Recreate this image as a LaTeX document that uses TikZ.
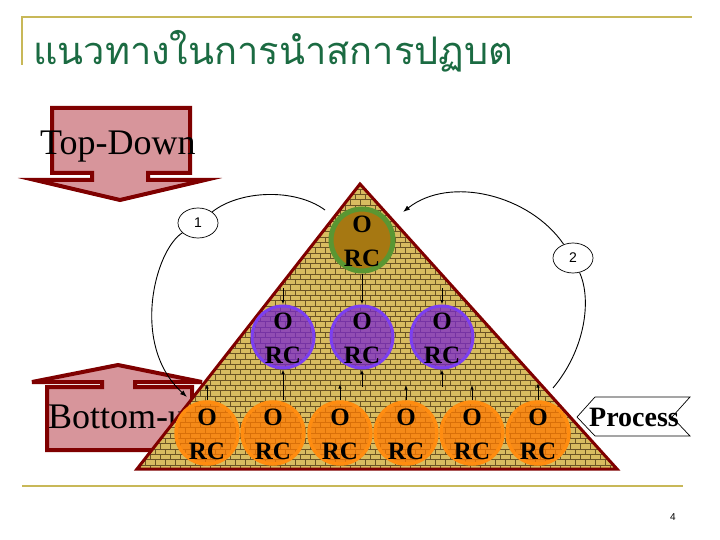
\documentclass[tikz,border=0pt]{standalone}
\usepackage{fontspec}
\setmainfont{Liberation Serif}
\newfontfamily\thaifont[Script=Thai]{Loma}
\newfontfamily\sansf{Liberation Sans}
\usetikzlibrary{arrows.meta,shapes.geometric}
\definecolor{goldline}{HTML}{C8B858}
\definecolor{titlegreen}{HTML}{1B6B42}
\definecolor{pinkfill}{HTML}{D7959B}
\definecolor{darkred}{HTML}{7F0000}
\definecolor{brickcol}{HTML}{D8BC60}
\definecolor{mortarcol}{HTML}{6B5424}
\definecolor{topfill}{HTML}{A67812}
\definecolor{topline}{HTML}{5A9632}
\definecolor{purplefill}{HTML}{7A28D0}
\definecolor{purpleline}{HTML}{7B3FF0}
\definecolor{orangefill}{HTML}{FF7A00}
\definecolor{orangeline}{HTML}{FF8C10}
\tikzset{
  rule/.style={draw=goldline, line width=2pt},
  blockarrow/.style={draw=darkred, fill=pinkfill, line width=4pt, line join=miter},
  bigtext/.style={font=\fontsize{36}{40}\selectfont, inner sep=0pt},
  mortar/.style={draw=mortarcol, line width=0.8pt},
  pyrborder/.style={draw=darkred, line width=3pt, line join=miter},
  circtext/.style={font=\bfseries\fontsize{25}{30}\selectfont, inner sep=0pt},
  basecirc/.style={circle, minimum size=62pt, inner sep=0pt},
  topcirc/.style={basecirc, fill=topfill, draw=topline, line width=5pt},
  purplecirc/.style={basecirc, fill=purplefill, fill opacity=0.75, draw=purpleline, draw opacity=1, line width=3pt},
  orangecirc/.style={basecirc, fill=orangefill, fill opacity=0.75, draw=orangeline, draw opacity=1, line width=3.5pt},
  tinyarrow/.style={draw=black, line width=0.8pt, -{Latex[length=4.5pt,width=3.5pt]}},
  curveline/.style={draw=black, line width=0.9pt},
  curvearrow/.style={curveline, -{Latex[length=7pt,width=5pt]}},
  numlbl/.style={ellipse, draw=black, line width=0.7pt, fill=white, minimum width=40pt, minimum height=30pt, inner sep=0pt, font=\sansf\fontsize{14}{16}\selectfont},
}
\begin{document}
\begin{tikzpicture}[x=1pt,y=-1pt]
\useasboundingbox (0,0) rectangle (720,540);
\fill[white] (0,0) rectangle (720,540);

% rules
\draw[rule] (22,65) -- (22,17) -- (692,17);
\draw[rule] (22,486) -- (683,486);

% title
\node[anchor=base west, inner sep=0pt, text=titlegreen, font=\thaifont\fontsize{38}{42}\selectfont] (title) at (33,65) {แนวทางในการนำสการปฏบต};

% Top-Down arrow
\draw[blockarrow] (52,108) -- (190,108) -- (190,173) -- (148,173) -- (148,180) -- (205,180) -- (120,200) -- (35,180) -- (92,180) -- (92,173) -- (52,173) -- cycle;
\node[bigtext, anchor=base west] (td) at (40,155) {Top-Down};

% Bottom-up arrow
\draw[blockarrow] (118,365) -- (202,382) -- (135,382) -- (135,387) -- (192,387) -- (192,450) -- (47,450) -- (47,387) -- (102,387) -- (102,382) -- (32,382) -- cycle;
\node[bigtext, anchor=base west] (bu) at (48,428) {Bottom-up};

% pyramid
\coordinate (apex) at (360,184);
\coordinate (bl) at (137,469);
\coordinate (br) at (617,469);
\begin{scope}
  \clip (apex) -- (bl) -- (br) -- cycle;
  \fill[brickcol] (130,180) rectangle (620,472);
  \foreach \r in {0,...,54} \draw[mortar] (130,{184+5.3*\r}) -- (620,{184+5.3*\r});
  \foreach \k in {0,...,97} {
    \pgfmathsetmacro\ph{mod(\k,2)*5.3}
    \draw[mortar, dash pattern=on 5.3pt off 5.3pt, dash phase=\ph] ({135+5*\k},184) -- ({135+5*\k},472);
  }
\end{scope}
\draw[pyrborder] (apex) -- (bl) -- (br) -- cycle;

% circles
\node[topcirc] (t) at (362,240) {};
\node[purplecirc] (p1) at (283,337) {};
\node[purplecirc] (p2) at (362,337) {};
\node[purplecirc] (p3) at (442,337) {};
\node[orangecirc] (o1) at (207,433) {};
\node[orangecirc] (o2) at (273,433) {};
\node[orangecirc] (o3) at (340,433) {};
\node[orangecirc] (o4) at (406,433) {};
\node[orangecirc] (o5) at (472,433) {};
\node[orangecirc] (o6) at (538,433) {};
\foreach \n in {t,p1,p2,p3,o1,o2,o3,o4,o5,o6} {
  \node[circtext] (\n-o) at ([yshift=16pt]\n.center) {O};
  \node[circtext] (\n-rc) at ([yshift=-18pt]\n.center) {RC};
}

% small arrows down
\coordinate (d1) at (283,288);
\coordinate (d3) at (442,288);
\draw[tinyarrow] (d1) -- (p1.north);
\draw[tinyarrow] (t.south) -- (p2.north);
\draw[tinyarrow] (d3) -- (p3.north);
% small arrows up
\coordinate (u1) at (207,384);
\coordinate (u3) at (340,384);
\coordinate (u4) at (406,385);
\coordinate (u5) at (472,385);
\coordinate (u6) at (538,383);
\coordinate (v2) at (362,387);
\coordinate (v3) at (442,387);
\draw[tinyarrow] (o1.north) -- (u1);
\draw[tinyarrow] (p1.south |- o2.north) -- (p1.south);
\draw[tinyarrow] (o3.north) -- (u3);
\draw[tinyarrow] (o4.north) -- (u4);
\draw[tinyarrow] (o5.north) -- (u5);
\draw[tinyarrow] (o6.north) -- (u6);
\draw[tinyarrow] (v2) -- (p2.south);
\draw[tinyarrow] (v3) -- (p3.south);

% curved arrows
\node[numlbl] (n1) at (198,223) {1};
\node[numlbl] (n2) at (573,258) {2};
\coordinate (c1s) at (325,210);
\coordinate (e1) at (187,397);
\coordinate (c2s) at (553,388);
\coordinate (e2) at (403,212);
\draw[curveline] (c1s) .. controls (295,188) and (240,190) .. (n1);
\draw[curvearrow] (n1) .. controls (155,250) and (130,345) .. (e1);
\draw[curveline] (c2s) .. controls (585,350) and (592,300) .. (n2);
\draw[curvearrow] (n2) .. controls (530,195) and (450,175) .. (e2);

% Process
\draw[draw=black, line width=0.7pt, fill=white] (595,397) -- (690,397) -- (672,417) -- (690,436) -- (595,436) -- (577,417) -- cycle;
\node[font=\bfseries\fontsize{28}{30}\selectfont, inner sep=0pt] (proc) at (634,417) {Process};

% page number
\node[font=\sansf\fontsize{10}{12}\selectfont, inner sep=0pt] (pg) at (673,517) {4};
\end{tikzpicture}
\end{document}
